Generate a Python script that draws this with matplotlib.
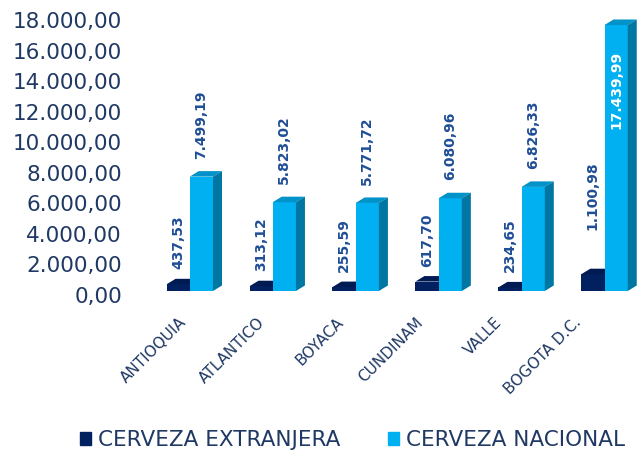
import matplotlib.pyplot as plt
import matplotlib.transforms as mtransforms
from matplotlib.patches import Polygon, Patch

# datos por departamento
regiones = ['ANTIOQUIA', 'ATLANTICO', 'BOYACA', 'CUNDINAM', 'VALLE', 'BOGOTA D.C.']
extranjera = [437.53, 313.12, 255.59, 617.70, 234.65, 1100.98]
nacional = [7499.19, 5823.02, 5771.72, 6080.96, 6826.33, 17439.99]
yticks = list(range(0, 18001, 2000))

# colores (frente, tapa, lado)
c_ext = ('#002060', '#001A52', '#001640')
c_nac = ('#00B0F0', '#0092C8', '#0077A2')
txt_color = '#1F3864'
lbl_color = '#1F4E96'


def fmt(v):
    # formato 1.234,56
    return f"{v:,.2f}".replace(",", "X").replace(".", ",").replace("X", ".")


fig = plt.figure(figsize=(6.37, 4.51), dpi=100)
ax = fig.add_axes([0.2198, 0.3548, 0.780, 0.6087])
ax.set_xlim(-0.6, 5.39)
ax.set_ylim(0, 18000)

w = 0.28
dx = 9 / 83            # profundidad 3D en x (unidades de datos)
dy = 5.5 / 274.5 * 18000  # profundidad 3D en y


def bar3d(x0, h, cols):
    front, top, side = cols
    ax.bar(x0, h, w, align='edge', color=front, lw=0)
    ax.add_patch(Polygon([(x0, h), (x0 + w, h), (x0 + w + dx, h + dy), (x0 + dx, h + dy)],
                         closed=True, color=top, lw=0))
    ax.add_patch(Polygon([(x0 + w, 0), (x0 + w, h), (x0 + w + dx, h + dy), (x0 + w + dx, dy)],
                         closed=True, color=side, lw=0))


for i in range(len(regiones)):
    bar3d(i - w, extranjera[i], c_ext)
    bar3d(i, nacional[i], c_nac)

# etiquetas de datos
for i, v in enumerate(extranjera):
    off = 44 if i == 5 else 15
    ax.annotate(fmt(v), (i - w / 2, v), xytext=(0, off), textcoords='offset pixels',
                rotation=90, ha='center', va='bottom', fontsize=10, fontweight='bold',
                color=lbl_color)
for i, v in enumerate(nacional):
    if v > 15000:
        ax.annotate(fmt(v), (i + w / 2, v), xytext=(0, -26), textcoords='offset pixels',
                    rotation=90, ha='center', va='top', fontsize=10, fontweight='bold',
                    color='white')
    else:
        ax.annotate(fmt(v), (i + w / 2, v), xytext=(0, 18), textcoords='offset pixels',
                    rotation=90, ha='center', va='bottom', fontsize=10, fontweight='bold',
                    color=lbl_color)

# ejes
ax.set_yticks(yticks)
ax.set_yticklabels([fmt(t) for t in yticks], fontsize=15.5, color=txt_color)
ax.tick_params(axis='y', length=0, pad=13)
ax.set_xticks(range(len(regiones)))
ax.set_xticklabels(regiones, rotation=45, ha='right', va='center', rotation_mode='anchor',
                   fontsize=11, color=txt_color)
ax.tick_params(axis='x', length=0, pad=21)
for s in ax.spines.values():
    s.set_visible(False)

# pequeños desplazamientos como en el original (perspectiva 3D)
for lbl in ax.get_yticklabels():
    lbl.set_transform(lbl.get_transform() + mtransforms.ScaledTranslation(0, -0.04, fig.dpi_scale_trans))
for i, lbl in enumerate(ax.get_xticklabels()):
    lbl.set_transform(lbl.get_transform() +
                      mtransforms.ScaledTranslation(-(0.06 + 0.04 * i), 0, fig.dpi_scale_trans))

handles = [Patch(color=c_ext[0]), Patch(color=c_nac[0])]
fig.legend(handles, ['CERVEZA EXTRANJERA', 'CERVEZA NACIONAL'], loc='center',
           bbox_to_anchor=(0.553, 0.0244), ncol=2, frameon=False, fontsize=15.5,
           handlelength=0.55, handleheight=0.55, handletextpad=0.3, columnspacing=2.2,
           labelcolor=txt_color)

fig.savefig('out.png', dpi=100)
